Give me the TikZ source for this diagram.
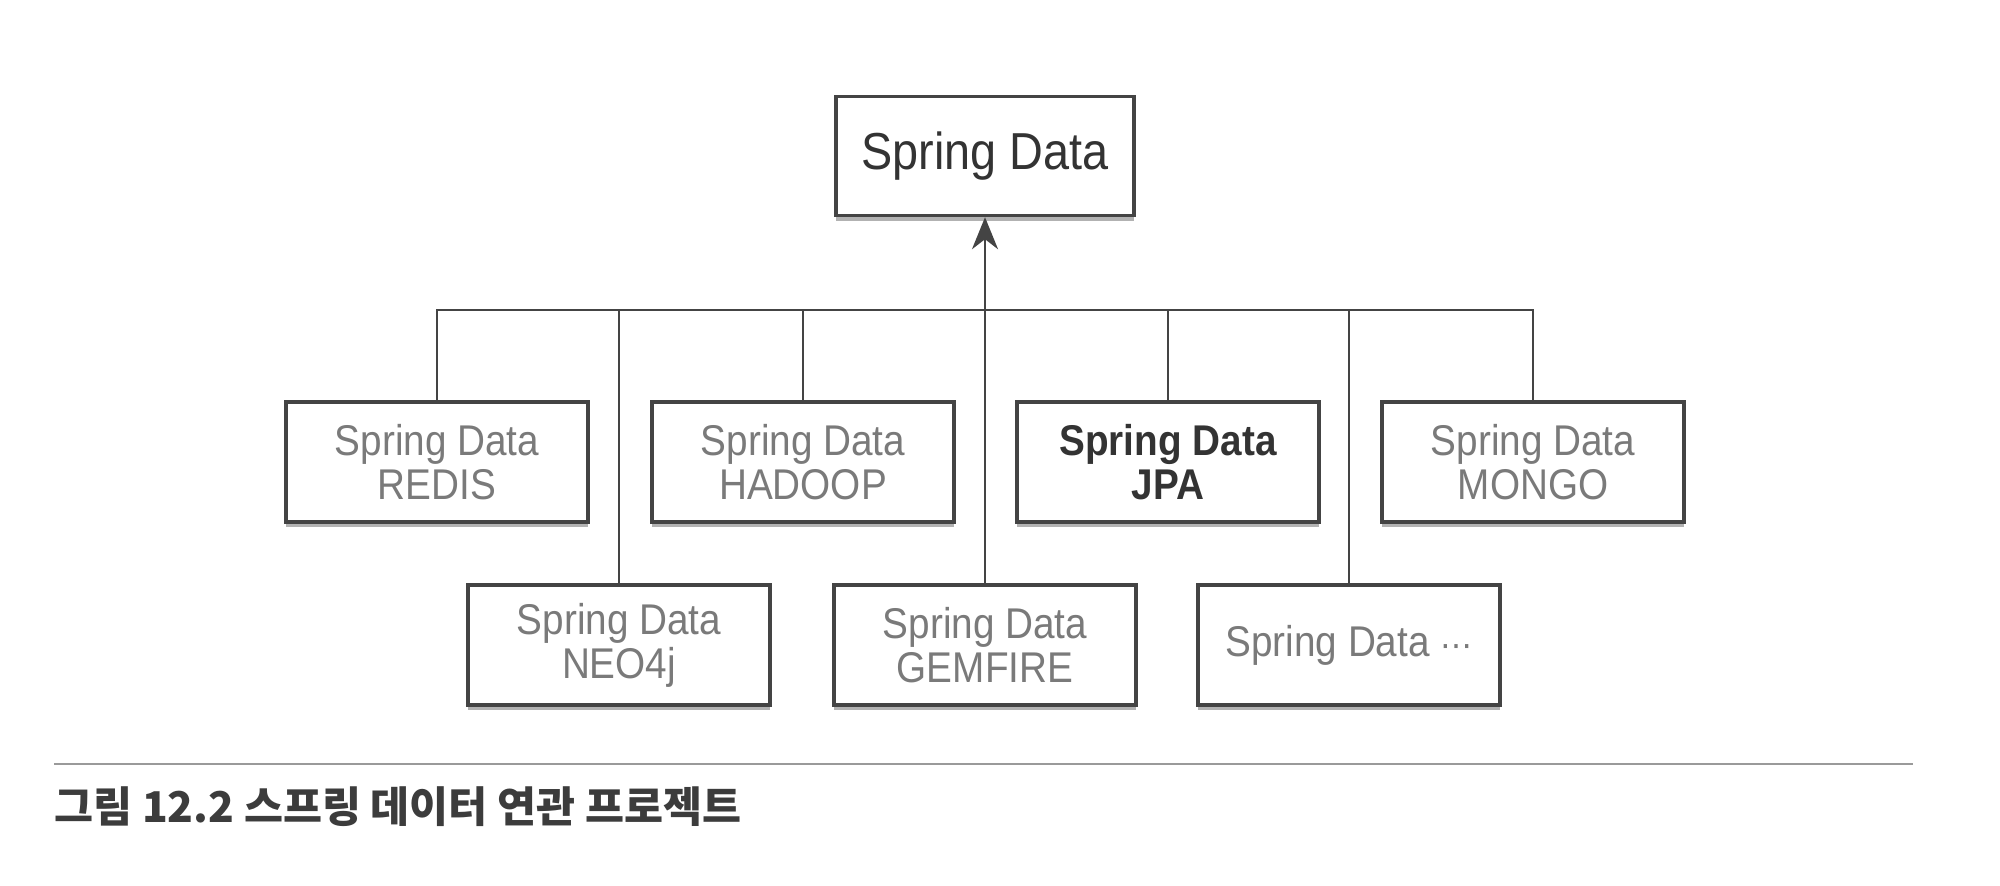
\documentclass[tikz,border=0pt]{standalone}
\usepackage{fontspec}
\setmainfont{Liberation Sans}[FakeStretch=0.9]
\newfontfamily\cjk{Noto Sans CJK KR}
\newfontfamily\dejavu{DejaVu Sans}
\usetikzlibrary{arrows.meta,shadows}
\definecolor{boxline}{HTML}{444444}
\definecolor{subtext}{HTML}{7A7A7A}
\definecolor{maintext}{HTML}{333333}
\definecolor{captext}{HTML}{3C3C3C}
\definecolor{rulecol}{HTML}{9A9A9A}
\begin{document}
\begin{tikzpicture}[x=0.5pt,y=-0.5pt,
  box/.style={draw=boxline, line width=1.7pt, fill=white, inner sep=0pt, align=center,
    drop shadow={shadow xshift=0pt, shadow yshift=-2.6pt, fill=black!55, opacity=0.55}},
  topbox/.style={box, minimum width=149pt, minimum height=59.5pt, text=maintext,
    font=\fontsize{26}{28}\selectfont},
  subbox/.style={box, minimum width=151pt, minimum height=60pt, text=subtext,
    font=\fontsize{21.5}{22}\selectfont},
  boldbox/.style={subbox, text=maintext, font=\bfseries\fontsize{21.5}{22}\selectfont},
  conn/.style={draw=boxline, line width=1.2pt},
  arrowconn/.style={conn, -{Stealth[length=16pt,width=13pt,inset=5pt]}},
  caption/.style={anchor=base west, inner sep=0pt, text=captext,
    font={\cjk\bfseries\fontsize{21.2}{24}\selectfont}}
]
\useasboundingbox (0,0) rectangle (2000,885);

% top
\node[topbox] (top) at (985,156) {Spring Data};

% row 1
\node[subbox] (redis)  at (437,462)  {Spring Data\\REDIS};
\node[subbox] (hadoop) at (803,462)  {Spring Data\\HADOOP};
\node[boldbox] (jpa)   at (1168,462) {Spring Data\\JPA};
\node[subbox] (mongo)  at (1533,462) {Spring Data\\MONGO};

% row 2
\node[subbox] (neo)     at (619,645)  {Spring Data\\NEO4j};
\node[subbox] (gemfire) at (985,645)  {Spring Data\\GEMFIRE};
\node[subbox] (etc)     at (1349,645) {Spring Data {\dejavu\fontsize{16}{18}\selectfont ⋯}};

% bus
\coordinate (bus) at (0,310);
\draw[conn] (redis.north) -- (redis.north |- bus) -| (mongo.north);
\draw[conn] (hadoop.north) -- (hadoop.north |- bus);
\draw[conn] (jpa.north) -- (jpa.north |- bus);
\draw[conn] (neo.north) -- (neo.north |- bus);
\draw[conn] (etc.north) -- (etc.north |- bus);
\draw[arrowconn] (gemfire.north) -- (gemfire.north |- top.south);

% caption
\coordinate (ruleL) at (54,764);
\coordinate (ruleR) at (1913,764);
\draw[draw=rulecol, line width=1.1pt] (ruleL) -- (ruleR);
\node[caption] (cap) at (54,822) {그림 12.2 스프링 데이터 연관 프로젝트};
\end{tikzpicture}
\end{document}
